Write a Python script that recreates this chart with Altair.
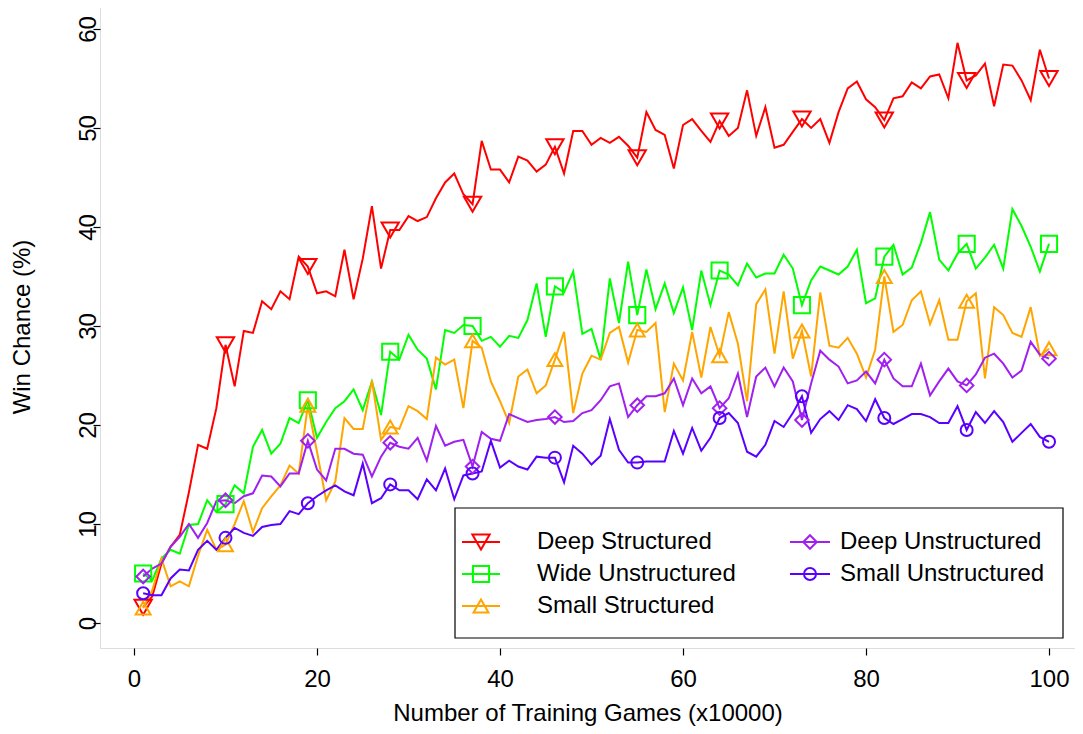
import altair as alt
import pandas as pd

games = list(range(1, 101))

deep_structured = [1.6, 2.7, 6.0, 7.7, 8.9, 13.2, 18.0, 17.6, 21.7, 28.1,
    23.9, 29.5, 29.3, 32.5, 31.7, 33.5, 32.7, 37.0, 36.0, 33.3,
    33.5, 33.0, 37.7, 32.7, 36.8, 42.1, 35.8, 39.7, 39.7, 41.1,
    40.6, 41.0, 42.9, 44.5, 45.4, 43.3, 42.3, 48.7, 45.8, 45.8,
    44.5, 47.1, 46.7, 45.6, 46.3, 48.1, 45.4, 49.7, 49.7, 48.3,
    49.0, 48.5, 49.1, 48.2, 47.0, 51.6, 49.8, 49.3, 45.9, 50.3,
    50.9, 49.7, 48.6, 50.7, 49.2, 50.0, 53.8, 49.2, 52.1, 48.0,
    48.3, 49.6, 50.9, 50.0, 50.9, 48.5, 51.6, 54.0, 54.7, 52.9,
    52.1, 50.8, 53.0, 53.2, 54.6, 54.0, 55.2, 55.4, 53.0, 58.6,
    54.8, 55.3, 56.5, 52.2, 56.4, 56.3, 54.8, 52.8, 57.9, 55.0]

wide_unstructured = [5.0, 4.3, 6.5, 7.4, 7.0, 9.9, 10.0, 12.4, 11.2, 12.0,
    13.9, 13.1, 17.8, 19.5, 17.1, 18.1, 20.7, 20.2, 22.5, 18.7,
    20.3, 21.7, 22.4, 23.6, 21.5, 24.4, 21.0, 27.4, 26.6, 29.1,
    27.6, 26.7, 23.6, 29.6, 29.3, 30.1, 30.0, 28.5, 28.9, 27.9,
    29.0, 28.8, 30.6, 34.3, 28.9, 34.0, 33.4, 35.5, 29.2, 29.7,
    26.6, 34.8, 30.3, 36.5, 31.1, 35.7, 31.7, 34.3, 31.3, 33.9,
    29.6, 35.6, 32.1, 35.6, 35.2, 34.1, 36.3, 34.9, 35.3, 35.3,
    37.2, 35.8, 32.1, 34.6, 36.0, 35.6, 35.2, 36.0, 37.7, 32.3,
    32.8, 37.0, 38.2, 35.2, 35.9, 38.4, 41.5, 36.7, 35.6, 37.3,
    38.3, 35.8, 36.9, 38.2, 35.8, 41.8, 40.1, 38.0, 35.5, 38.3]

small_structured = [1.5, 3.3, 6.5, 3.7, 4.2, 3.7, 6.8, 9.4, 7.4, 7.9,
    10.0, 12.3, 9.2, 11.6, 12.8, 13.9, 15.9, 15.1, 22.0, 17.3,
    12.4, 14.3, 20.7, 19.6, 19.6, 24.5, 18.5, 19.8, 19.6, 21.9,
    21.4, 20.6, 26.8, 26.1, 26.6, 21.7, 28.5, 27.8, 24.4, 22.4,
    20.2, 24.9, 25.6, 23.2, 24.0, 26.6, 29.4, 21.2, 25.2, 27.0,
    26.6, 29.3, 29.9, 26.3, 29.6, 29.4, 30.3, 21.3, 26.2, 24.5,
    29.4, 24.8, 29.9, 27.0, 31.4, 28.2, 22.4, 32.2, 33.7, 27.2,
    33.5, 26.7, 29.5, 24.9, 33.4, 28.0, 27.8, 28.8, 27.2, 24.8,
    27.6, 35.0, 29.4, 30.1, 32.6, 33.5, 30.2, 32.6, 28.6, 28.6,
    32.5, 33.3, 24.7, 31.9, 31.1, 29.3, 28.9, 31.9, 27.0, 27.7]

deep_unstructured = [4.7, 5.5, 6.0, 7.7, 8.7, 10.0, 8.6, 10.1, 12.3, 12.4,
    12.1, 12.8, 13.1, 14.9, 14.8, 13.8, 15.1, 15.1, 18.4, 15.5,
    14.4, 17.6, 17.6, 17.1, 17.0, 14.8, 16.8, 18.2, 17.8, 17.6,
    18.7, 16.4, 19.9, 17.9, 18.3, 18.5, 15.8, 19.3, 18.6, 18.4,
    21.1, 20.7, 20.3, 20.5, 20.6, 20.8, 20.3, 20.4, 21.2, 21.5,
    22.5, 23.9, 24.2, 20.8, 22.0, 22.9, 22.9, 23.2, 24.7, 22.0,
    24.7, 23.2, 23.9, 21.7, 22.7, 25.2, 20.8, 24.9, 25.8, 23.9,
    25.8, 24.4, 20.5, 24.2, 27.5, 26.6, 25.9, 24.2, 24.5, 25.4,
    24.2, 26.6, 24.7, 23.9, 23.9, 26.2, 23.0, 24.4, 25.7, 24.4,
    24.0, 25.1, 26.8, 27.2, 26.2, 24.8, 25.5, 28.4, 27.1, 26.7]

small_unstructured = [3.0, 2.8, 2.8, 4.5, 5.4, 5.3, 7.4, 8.3, 7.4, 8.6,
    9.6, 9.1, 8.8, 9.7, 9.9, 10.0, 11.3, 11.0, 12.1, 12.8,
    13.4, 13.9, 13.3, 12.9, 16.1, 12.1, 12.6, 14.0, 13.4, 13.4,
    12.5, 14.5, 13.4, 15.6, 12.5, 14.9, 15.1, 15.3, 18.4, 15.7,
    16.4, 15.8, 15.5, 16.8, 16.7, 16.7, 14.2, 17.9, 17.1, 16.0,
    16.9, 20.6, 17.5, 16.2, 16.2, 16.3, 16.3, 16.3, 19.4, 17.1,
    19.7, 17.4, 18.7, 20.7, 21.2, 20.2, 17.3, 16.8, 18.0, 20.4,
    19.8, 21.2, 22.9, 19.2, 20.6, 21.4, 20.5, 22.0, 21.6, 20.4,
    22.6, 20.7, 20.1, 20.6, 21.1, 21.1, 20.8, 20.2, 20.2, 21.9,
    19.5, 21.3, 20.2, 21.4, 20.3, 18.3, 19.2, 20.1, 18.8, 18.3]

names = ["Deep Structured", "Wide Unstructured", "Small Structured",
         "Deep Unstructured", "Small Unstructured"]
colors = ["#FF0000", "#00FF00", "#FFA500", "#A020F0", "#5A00FF"]
shapes = ["triangle-down", "square", "triangle-up", "diamond", "circle"]
sizes = [300, 144, 300, 196, 130]
x_ticks = [0, 20, 40, 60, 80, 100]
y_ticks = [0, 10, 20, 30, 40, 50, 60]

series = [deep_structured, wide_unstructured, small_structured,
          deep_unstructured, small_unstructured]

rows = []
for name, vals in zip(names, series):
    for g, v in zip(games, vals):
        rows.append({"games": g, "win": v, "series": name,
                     "marker": (g - 1) % 9 == 0})
df = pd.DataFrame(rows)

FONT = "Liberation Sans"
FS = 24
W, H = 975, 643

xscale = alt.Scale(domain=[-3.716, 102.84], nice=False, zero=False)
yscale = alt.Scale(domain=[-2.525, 62.42], nice=False, zero=False)
color = alt.Color("series:N", scale=alt.Scale(domain=names, range=colors), legend=None)
shape = alt.Shape("series:N", scale=alt.Scale(domain=names, range=shapes), legend=None)
size = alt.Size("series:O", scale=alt.Scale(domain=names, range=sizes), legend=None)

x_axis = alt.Axis(values=x_ticks, title="Number of Training Games (x10000)",
                  grid=False, domain=False, tickSize=7, tickColor="black", tickWidth=1.2,
                  labelFontSize=FS, labelColor="black", labelPadding=12, labelFont=FONT,
                  labelFlush=False, labelOverlap=False,
                  titleFontSize=FS, titleFontWeight="normal", titleColor="black", titleFont=FONT,
                  titleY=72, titleBaseline="alphabetic")
y_axis = alt.Axis(values=y_ticks, title="Win Chance (%)",
                  grid=False, domain=False, tickSize=7, tickColor="black", tickWidth=1.2,
                  labelFontSize=FS, labelColor="black", labelPadding=5, labelFont=FONT,
                  labelAngle=270, labelAlign="center", labelBaseline="middle",
                  labelFlush=False, labelOverlap=False,
                  titleFontSize=FS, titleFontWeight="normal", titleColor="black", titleFont=FONT,
                  titleX=-78, titleY=H / 2, titleAngle=270, titleBaseline="middle", titleAlign="center")

base = alt.Chart(df)
lines = base.mark_line(strokeWidth=2).encode(
    x=alt.X("games:Q", scale=xscale, axis=x_axis),
    y=alt.Y("win:Q", scale=yscale, axis=y_axis),
    color=color, detail="series:N")
points = base.transform_filter(alt.datum.marker).mark_point(filled=False, strokeWidth=2, opacity=1).encode(
    x=alt.X("games:Q", scale=xscale, axis=None),
    y=alt.Y("win:Q", scale=yscale, axis=None),
    color=color, shape=shape, size=size)

# legend (pixel positions inside plot area; plot origin at page (100, 5))
leg_rows = []
col_line = [(362, 400, 381, 437), (690, 730, 710, 740)]
row_y = [537, 569, 601]
layout = [(0, 0), (0, 1), (0, 2), (1, 0), (1, 1)]
for name, (c, r) in zip(names, layout):
    l1, l2, sx, tx = col_line[c]
    leg_rows.append({"series": name, "l1": l1, "l2": l2, "sx": sx, "tx": tx, "ly": row_y[r]})
leg = pd.DataFrame(leg_rows)

box = alt.Chart(pd.DataFrame({"a": [0]})).mark_rect(
    fill="white", stroke="black", strokeWidth=1.2).encode(
    x=alt.value(355), x2=alt.value(963), y=alt.value(503), y2=alt.value(633))
lbase = alt.Chart(leg)
leg_lines = lbase.mark_rule(strokeWidth=2).encode(
    x=alt.X("l1:Q", scale=None, axis=None), x2="l2:Q",
    y=alt.Y("ly:Q", scale=None, axis=None), color=color)
leg_pts = lbase.mark_point(filled=False, strokeWidth=2, opacity=1).encode(
    x=alt.X("sx:Q", scale=None, axis=None), y=alt.Y("ly:Q", scale=None, axis=None),
    color=color, shape=shape, size=size)
leg_text = lbase.mark_text(align="left", baseline="middle", font=FONT, fontSize=FS, color="black").encode(
    x=alt.X("tx:Q", scale=None, axis=None), y=alt.Y("ly:Q", scale=None, axis=None),
    text="series:N")

chart = alt.layer(lines, points, box, leg_lines, leg_pts, leg_text).resolve_scale(
    x="independent", y="independent"
).properties(
    width=W, height=H,
    autosize=alt.AutoSizeParams(type="none"),
    padding={"left": 92, "top": -3, "right": 0, "bottom": 78},
).configure_view(stroke="black", strokeWidth=1.2).configure(font=FONT)

chart.save("out.html", embed_options={"renderer": "svg", "actions": False})
